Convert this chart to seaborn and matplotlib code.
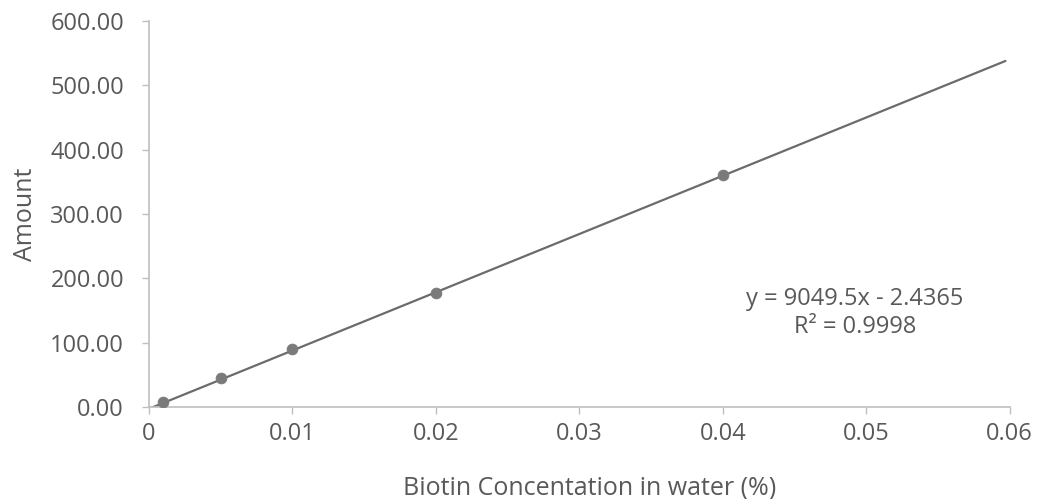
import numpy as np
import pandas as pd
import matplotlib
matplotlib.use('Agg')
import matplotlib.pyplot as plt
import seaborn as sns

sns.set_style('white')
plt.rcParams['font.family'] = ['Open Sans', 'DejaVu Sans']

# Dados
concentracao = [0.001, 0.005, 0.01, 0.02, 0.04]
quantidade = [7.5, 45.0, 90.5, 177.5, 361.0]
x_ticks = [0, 0.01, 0.02, 0.03, 0.04, 0.05, 0.06]
x_tick_labels = ['0', '0.01', '0.02', '0.03', '0.04', '0.05', '0.06']
y_ticks = [0, 100, 200, 300, 400, 500, 600]
equacao = 'y = 9049.5x - 2.4365'
r2_texto = 'R² = 0.9998'
slope, intercept = 9049.5, -2.4365

df = pd.DataFrame({'x': concentracao, 'y': quantidade})
trend = pd.DataFrame({'x': [0, 0.0597]})
trend['y'] = slope * trend['x'] + intercept

text_color = '#595959'
spine_color = '#bfbfbf'

fig = plt.figure(figsize=(10.42, 4.99), dpi=100)
ax = fig.add_axes([0.143, 0.184, 0.826, 0.774])

sns.lineplot(data=trend, x='x', y='y', ax=ax, color='#6b6b6b', linewidth=1.6)
sns.scatterplot(data=df, x='x', y='y', ax=ax, color='#7a7a7a', s=60, edgecolor='#7a7a7a', zorder=3)

ax.set_xlim(0, 0.06)
ax.set_ylim(0, 600)
ax.set_xticks(x_ticks)
ax.set_xticklabels(x_tick_labels)
ax.set_yticks(y_ticks)
ax.set_yticklabels([f'{v:.2f}' for v in y_ticks])
ax.tick_params(axis='both', labelsize=17, colors=spine_color, labelcolor=text_color,
               length=5, width=1, direction='out', bottom=True, left=True)
ax.tick_params(axis='x', pad=6)
ax.tick_params(axis='y', pad=13)

for side in ['top', 'right']:
    ax.spines[side].set_visible(False)
for side in ['left', 'bottom']:
    ax.spines[side].set_color(spine_color)
    ax.spines[side].set_linewidth(1.2)

ax.set_xlabel('Biotin Concentation in water (%)', fontsize=18, color=text_color, labelpad=21)
ax.xaxis.label.set_x(0.512)
ax.set_ylabel('Amount', fontsize=18, color=text_color, labelpad=9)

ax.text(0.0492, 146, equacao + '\n' + r2_texto, ha='center', va='center',
        fontsize=17, color=text_color, linespacing=1.2)

fig.savefig('out.png', dpi=100, facecolor='white')
plt.close(fig)
